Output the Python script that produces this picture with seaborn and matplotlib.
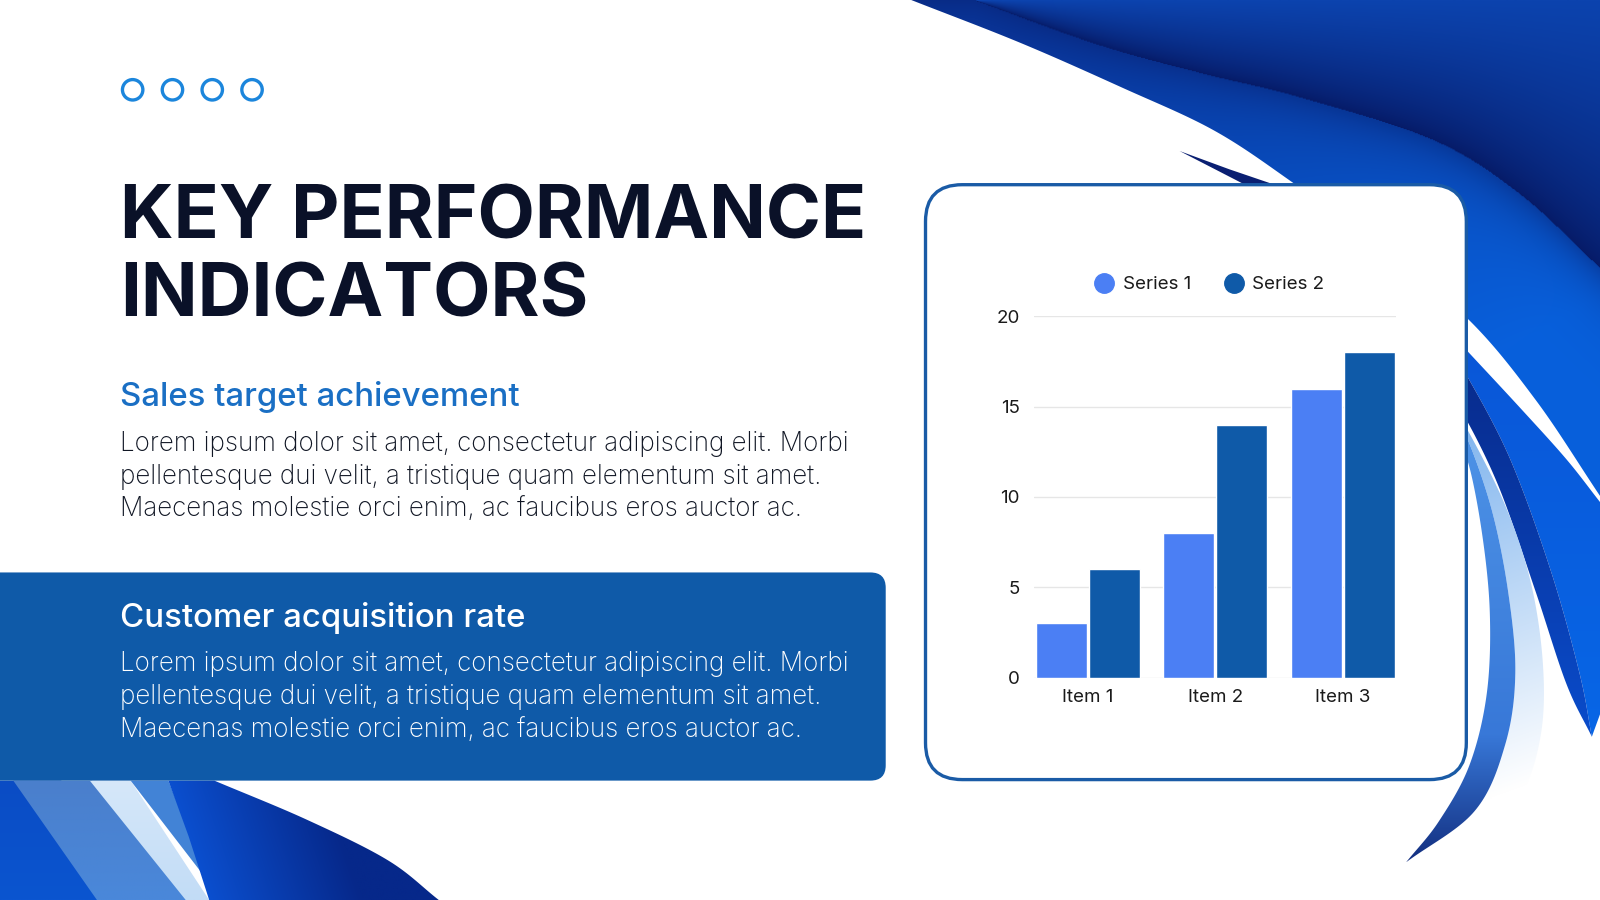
import numpy as np
import pandas as pd
import matplotlib
matplotlib.use("Agg")
import matplotlib.pyplot as plt
from matplotlib.patches import Polygon, FancyBboxPatch, Circle
from matplotlib.lines import Line2D
from matplotlib.colors import to_rgb
import seaborn as sns

# ---------------- data ----------------
items = ["Item 1", "Item 2", "Item 3"]
series_names = ["Series 1", "Series 2"]
series1 = [3, 8, 16]
series2 = [6, 14, 18]
y_ticks = [0, 5, 10, 15, 20]
colors = ["#4b7ff4", "#0f5aa8"]

title_lines = ["KEY PERFORMANCE", "INDICATORS"]
sub1 = "Sales target achievement"
sub2 = "Customer acquisition rate"
body_lines = ["Lorem ipsum dolor sit amet, consectetur adipiscing elit. Morbi",
              "pellentesque dui velit, a tristique quam elementum sit amet.",
              "Maecenas molestie orci enim, ac faucibus eros auctor ac."]

# ---------------- theme ----------------
sns.set_theme(style="white")
FONT = ["Inter", "DejaVu Sans"]
plt.rcParams["font.family"] = FONT

W, H = 1568.0, 882.0
fig = plt.figure(figsize=(16, 9), dpi=100)
fig.patch.set_facecolor("white")
bg = fig.add_axes([0, 0, 1, 1], zorder=0)
bg.set_xlim(0, W)
bg.set_ylim(H, 0)
bg.axis("off")


def smooth(pts, n=24):
    pts = np.asarray(pts, float)
    P = np.vstack([pts[0] * 2 - pts[1], pts, pts[-1] * 2 - pts[-2]])
    out = []
    t = np.linspace(0, 1, n, endpoint=False)[:, None]
    for i in range(1, len(P) - 2):
        p0, p1, p2, p3 = P[i - 1], P[i], P[i + 1], P[i + 2]
        a = 2 * p1
        b = p2 - p0
        c = 2 * p0 - 5 * p1 + 4 * p2 - p3
        d = -p0 + 3 * p1 - 3 * p2 + p3
        out.append(0.5 * (a + b * t + c * t ** 2 + d * t ** 3))
    out.append(pts[-1:])
    return np.vstack(out)


def lerp(c1, c2, t):
    a = np.array(to_rgb(c1))
    b = np.array(to_rgb(c2))
    t = np.clip(t, 0, 1)[..., None]
    return a * (1 - t) + b * t


def grad_fill(ax, poly, colfunc, zorder=1):
    poly = np.asarray(poly, float)
    patch = Polygon(poly, closed=True, fc="none", ec="none", transform=ax.transData)
    ax.add_patch(patch)
    x0, y0 = poly.min(0)
    x1, y1 = poly.max(0)
    nx = int(x1 - x0) + 2
    ny = int(y1 - y0) + 2
    X, Y = np.meshgrid(np.linspace(x0, x1, nx), np.linspace(y0, y1, ny))
    rgb = colfunc(X, Y)
    im = ax.imshow(rgb, extent=(x0, x1, y1, y0), origin="upper", aspect="auto",
                   zorder=zorder, interpolation="bilinear")
    im.set_clip_path(patch)
    ax.set_xlim(0, W)
    ax.set_ylim(H, 0)


# ---------------- top-right wave ----------------
c1 = smooth([(893, 0), (1000, 42), (1100, 86), (1190, 128), (1267, 179),
             (1350, 240), (1438, 312), (1505, 392), (1568, 486)])
polyA = np.vstack([c1, [(1568, 0)]])
c2 = smooth([(955, 0), (1078, 44), (1180, 72), (1274, 95), (1405, 137),
             (1490, 190), (1568, 262)])


def colA(X, Y):
    yc = np.interp(X, c2[:, 0], c2[:, 1], left=0, right=c2[-1, 1])
    above = Y < yc
    t_up = (yc - Y) / np.maximum(yc, 1)
    top = lerp("#061a66", "#0c43ae", t_up ** 0.7)
    s = (X - 950) / 600 * 0.6 + (Y - 60) / 420 * 0.7
    low = lerp("#0a3aa2", "#0860dc", s)
    d = np.clip(Y - yc, 0, None)
    shade = np.exp(-d / 30.0) * 0.45
    low = low * (1 - shade[..., None]) + np.array(to_rgb("#061a66")) * shade[..., None]
    return np.where(above[..., None], top, low)


grad_fill(bg, polyA, colA, zorder=1)

# thin sliver
bg.add_patch(Polygon([(1156, 148), (1205, 166), (1252, 182), (1222, 182)],
                     closed=True, fc="#0a1f72", ec="none", zorder=2))

# ribbons right of the card
b_top = smooth([(1425, 330), (1438, 344), (1490, 400), (1535, 450), (1568, 492)])
b_in = smooth([(1425, 352), (1438, 369), (1480, 450), (1520, 560), (1548, 660), (1560, 722)])
polyB = np.vstack([b_top, [(1568, 700)], b_in[::-1]])
grad_fill(bg, polyB, lambda X, Y: lerp("#0a57d8", "#0766e6", (Y - 340) / 380), zorder=2)

n_in = smooth([(1425, 398), (1438, 413), (1470, 480), (1505, 580), (1535, 670), (1560, 722)])
polyN = np.vstack([b_in, n_in[::-1]])
grad_fill(bg, polyN, lambda X, Y: lerp("#082c8e", "#0a4ccb", (Y - 370) / 350), zorder=2)

p_out = smooth([(1425, 405), (1438, 421), (1475, 495), (1500, 570), (1512, 650),
                (1510, 720), (1490, 780), (1445, 828), (1378, 845)])
m_out = smooth([(1425, 415), (1438, 430), (1462, 500), (1478, 580), (1485, 660),
                (1475, 730), (1445, 795), (1378, 845)])
m_in = smooth([(1425, 440), (1438, 451), (1452, 520), (1460, 600), (1457, 680),
               (1440, 750), (1410, 805), (1378, 845)])
polyP = np.vstack([p_out, m_out[::-1]])
grad_fill(bg, polyP, lambda X, Y: lerp("#86b8ef", "#ffffff",
                                        (Y - 430) / 360 + (X - 1440) / 300 * 0.3), zorder=2)
polyM = np.vstack([m_out, m_in[::-1]])


def colM(X, Y):
    t = (Y - 430) / 415
    a = lerp("#4d92e6", "#3878d8", t / 0.7)
    b = lerp("#3878d8", "#132f80", (t - 0.7) / 0.3)
    return np.where((t < 0.7)[..., None], a, b)


grad_fill(bg, polyM, colM, zorder=2)

# ---------------- bottom-left waves ----------------
grad_fill(bg, [(0, 765), (60, 765), (120, 882), (0, 882)],
          lambda X, Y: lerp("#0a4cc4", "#0b55d0", (Y - 765) / 117), zorder=2)
grad_fill(bg, [(13, 765), (90, 765), (190, 882), (95, 882)],
          lambda X, Y: lerp("#4a7fcc", "#4a88da", (Y - 765) / 117), zorder=2)
grad_fill(bg, [(88, 765), (128, 765), (205, 882), (182, 882)],
          lambda X, Y: lerp("#d6e8fa", "#c2dcf6", (Y - 765) / 117), zorder=2)
bg.add_patch(Polygon([(128, 765), (165, 765), (205, 865)], closed=True,
                     fc="#4283d6", ec="none", zorder=2))
nav_right = smooth([(210, 765), (300, 803), (380, 843), (430, 882)])
polyNav = np.vstack([[(165, 765)], nav_right, [(205, 882)], [(185, 820)]])


def colNav(X, Y):
    left = 165 + (Y - 765) * 0.34
    return lerp("#0b4fcf", "#06288a", (X - left) / 150)


grad_fill(bg, polyNav, colNav, zorder=2)

# ---------------- panels ----------------
bg.add_patch(FancyBboxPatch((-40, 561), 908, 204,
                            boxstyle="round,pad=0,rounding_size=15",
                            fc="#0f5aa8", ec="none", zorder=3))
bg.add_patch(FancyBboxPatch((907, 181), 530, 583,
                            boxstyle="round,pad=0,rounding_size=36",
                            fc="white", ec="#1a5ba6", lw=2.4, zorder=3))

for cx in [130, 169, 208, 247]:
    bg.add_patch(Circle((cx, 88), 10, fc="none", ec="#1c86dc", lw=2.4, zorder=4))

# ---------------- text ----------------
renderer = fig.canvas.get_renderer()
SC = 1600.0 / 1568.0


def fitted_size(s, target_w, **kw):
    t = bg.text(0, 0, s, fontsize=20, **kw)
    w = t.get_window_extent(renderer).width
    t.remove()
    return 20 * target_w * SC / w


ts = fitted_size(title_lines[0], 733, fontweight="bold")
bg.text(118, 234, title_lines[0], fontsize=ts, fontweight="bold", color="#0a1128",
        va="baseline", ha="left", zorder=5)
bg.text(118, 310, title_lines[1], fontsize=ts, fontweight="bold", color="#0a1128",
        va="baseline", ha="left", zorder=5)

ss = fitted_size(sub1, 392, fontweight="medium")
bg.text(118, 398, sub1, fontsize=ss, fontweight="medium", color="#1a6fc4",
        va="baseline", ha="left", zorder=5)
bg.text(118, 614, sub2, fontsize=ss, fontweight="medium", color="white",
        va="baseline", ha="left", zorder=5)

bs = fitted_size(body_lines[0], 713, fontweight="light")
for i, line in enumerate(body_lines):
    bg.text(118, 442 + 32 * i, line, fontsize=bs, fontweight="light", color="#101624",
            va="baseline", ha="left", zorder=5)
    bg.text(118, 658 + 32 * i, line, fontsize=bs, fontweight="light", color="white",
            va="baseline", ha="left", zorder=5)

# ---------------- chart ----------------
ax = fig.add_axes([1013 / W, 1 - 664 / H, 355 / W, 354 / H], zorder=5)
ax.patch.set_alpha(0)
df = pd.DataFrame({
    "item": items * 2,
    "series": [series_names[0]] * 3 + [series_names[1]] * 3,
    "value": series1 + series2,
})
sns.barplot(data=df, x="item", y="value", hue="series", palette=colors,
            width=0.832, gap=0.04, saturation=1, ax=ax, legend=False, zorder=3)
ax.set_ylim(0, 20)
ax.set_xlim(-0.424, 2.416)
ax.set_yticks(y_ticks)
ax.set_xlabel("")
ax.set_ylabel("")
for sp in ax.spines.values():
    sp.set_visible(False)
ax.yaxis.grid(True, color="#e6e6e6", lw=1)
ax.xaxis.grid(False)
ax.set_axisbelow(True)
ax.tick_params(axis="both", length=0, labelsize=13.5, colors="#1a1a1a")
ax.tick_params(axis="y", pad=10)
ax.tick_params(axis="x", pad=8)

handles = [Line2D([], [], marker="o", ls="", ms=14, color=c) for c in colors]
ax.legend(handles, series_names, loc="center", bbox_to_anchor=(0.486, 1 + 31 / 354),
          ncol=2, frameon=False, handletextpad=0.5, columnspacing=1.75,
          handlelength=1.0, fontsize=13.5, labelcolor="#1a1a1a")

fig.savefig("out.png", dpi=100, facecolor="white")
